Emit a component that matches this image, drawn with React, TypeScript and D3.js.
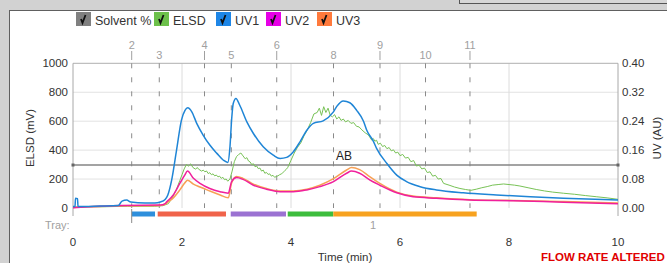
import React from "react";
import * as d3 from "d3";

// ---------- data ----------
const uv1Time = [0, 0.037, 0.046, 0.083, 0.092, 0.5, 0.83, 0.9, 0.985, 1.06, 1.32, 1.5, 1.6, 1.69, 1.74, 1.81, 1.9, 1.99, 2.055, 2.105, 2.18, 2.27, 2.39, 2.51, 2.64, 2.76, 2.84, 2.88, 2.91, 2.94, 2.99, 3.06, 3.19, 3.31, 3.49, 3.675, 3.8, 3.92, 4.04, 4.165, 4.29, 4.41, 4.59, 4.775, 4.84, 4.96, 5.08, 5.205, 5.33, 5.39, 5.51, 5.57, 5.76, 5.94, 6.12, 6.37, 6.67, 7.16, 7.77, 8.39, 9.0, 10];
const uv1Values = [0.004, 0.004, 0.027, 0.026, 0.004, 0.0055, 0.007, 0.019, 0.022, 0.0165, 0.014, 0.014, 0.0165, 0.0235, 0.036, 0.077, 0.16, 0.243, 0.27, 0.277, 0.266, 0.234, 0.201, 0.174, 0.151, 0.132, 0.126, 0.169, 0.243, 0.289, 0.303, 0.284, 0.238, 0.206, 0.169, 0.146, 0.137, 0.14, 0.155, 0.183, 0.215, 0.234, 0.241, 0.265, 0.281, 0.296, 0.291, 0.27, 0.24, 0.215, 0.185, 0.165, 0.123, 0.091, 0.073, 0.059, 0.05, 0.042, 0.036, 0.031, 0.027, 0.022];

const uvTime = [0, 0.9, 1.6, 1.69, 1.72, 1.84, 1.96, 2.05, 2.1, 2.21, 2.33, 2.51, 2.7, 2.85, 2.91, 3.0, 3.12, 3.31, 3.55, 3.8, 4.04, 4.29, 4.53, 4.78, 5.02, 5.11, 5.26, 5.45, 5.63, 5.94, 6.24, 6.67, 7.28, 8.08, 9.0, 10];
const uv2Values = [0.001, 0.007, 0.008, 0.012, 0.017, 0.036, 0.068, 0.091, 0.102, 0.082, 0.068, 0.054, 0.045, 0.041, 0.073, 0.084, 0.079, 0.063, 0.052, 0.045, 0.045, 0.05, 0.059, 0.073, 0.096, 0.102, 0.096, 0.077, 0.063, 0.042, 0.031, 0.027, 0.022, 0.02, 0.016, 0.012];
const uv3Values = [0.0014, 0.006, 0.007, 0.01, 0.014, 0.028, 0.05, 0.069, 0.077, 0.066, 0.058, 0.047, 0.036, 0.028, 0.069, 0.087, 0.082, 0.066, 0.054, 0.047, 0.047, 0.052, 0.063, 0.081, 0.105, 0.112, 0.106, 0.086, 0.068, 0.044, 0.033, 0.028, 0.023, 0.021, 0.018, 0.014];

const elsdTime = [0, 0.5, 1.0, 1.5, 1.65, 1.75, 1.82, 1.9, 1.96, 2.0, 2.04, 2.08, 2.12, 2.16, 2.2, 2.25, 2.28, 2.3, 2.33, 2.36, 2.39, 2.42, 2.45, 2.48, 2.51, 2.54, 2.57, 2.6, 2.63, 2.66, 2.69, 2.72, 2.75, 2.78, 2.81, 2.84, 2.88, 2.92, 2.96, 3.0, 3.04, 3.08, 3.12, 3.16, 3.19, 3.22, 3.25, 3.28, 3.31, 3.34, 3.37, 3.4, 3.43, 3.46, 3.49, 3.52, 3.55, 3.58, 3.61, 3.64, 3.67, 3.7, 3.73, 3.76, 3.79, 3.82, 3.85, 3.88, 3.91, 3.94, 4.0, 4.06, 4.12, 4.18, 4.24, 4.3, 4.36, 4.42, 4.48, 4.52, 4.56, 4.6, 4.64, 4.68, 4.72, 4.76, 4.8, 4.84, 4.88, 4.92, 4.96, 5.0, 5.05, 5.1, 5.15, 5.2, 5.25, 5.3, 5.36, 5.42, 5.48, 5.51, 5.54, 5.57, 5.6, 5.64, 5.68, 5.72, 5.76, 5.8, 5.84, 5.88, 5.92, 5.96, 6.0, 6.05, 6.1, 6.15, 6.2, 6.25, 6.3, 6.35, 6.4, 6.45, 6.5, 6.55, 6.6, 6.65, 6.7, 6.75, 6.8, 6.9, 7.0, 7.1, 7.2, 7.3, 7.4, 7.5, 7.6, 7.7, 7.8, 7.9, 8.0, 8.1, 8.2, 8.35, 8.5, 8.65, 8.8, 9.0, 9.2, 9.4, 9.6, 9.8, 10];
const elsdValues = [8, 8, 12, 12, 16, 30, 70, 130, 190, 230, 270, 300, 290, 305, 280, 268, 280, 270, 262, 255, 262, 250, 256, 238, 244, 230, 236, 222, 228, 215, 220, 205, 212, 196, 200, 185, 200, 255, 320, 355, 370, 380, 360, 340, 348, 325, 318, 300, 306, 285, 290, 272, 276, 255, 262, 240, 246, 232, 236, 220, 226, 212, 218, 222, 230, 235, 244, 255, 266, 280, 330, 380, 420, 450, 500, 540, 590, 650, 660, 690, 640, 700, 660, 690, 640, 630, 645, 615, 630, 605, 615, 595, 605, 585, 590, 565, 560, 540, 520, 505, 470, 480, 462, 468, 440, 448, 425, 432, 410, 418, 395, 402, 380, 386, 362, 370, 345, 350, 320, 328, 290, 296, 270, 276, 245, 250, 220, 226, 200, 204, 170, 158, 145, 135, 128, 122, 130, 140, 148, 158, 162, 166, 162, 158, 152, 140, 128, 118, 110, 102, 95, 86, 78, 70, 60];

const thresholdElsd = 297;

const fractionNumbers = ["2", "3", "4", "5", "6", "8", "9", "10", "11"];
const fractionTimes = [1.077, 1.583, 2.413, 2.905, 3.738, 4.78, 5.633, 6.468, 7.284];

const trayStart = [1.077, 1.554, 2.894, 3.94, 4.776];
const trayEnd = [1.505, 2.807, 3.908, 4.776, 7.407];
const trayColors = ["#2e8fdc", "#f0634a", "#9b72d2", "#3dbd3d", "#f7a21f"];

const elsdTicks = [0, 200, 400, 600, 800, 1000];
const uvTicks = [0, 0.08, 0.16, 0.24, 0.32, 0.4];
const timeTicks = [0, 2, 4, 6, 8, 10];

const legendLabels = ["Solvent %", "ELSD", "UV1", "UV2", "UV3"];
const legendColors = ["#808080", "#6cc04a", "#1e86e6", "#e600e6", "#ff7a3c"];
const legendX = [76, 154, 216, 266, 317];

// ---------- layout ----------
const W = 667;
const H = 263;
const X0 = 73;
const X1 = 618;
const YT = 63.3;
const YB = 208;
const FONT = "'Liberation Sans', Arial, sans-serif";

export default function App() {
  const x = d3.scaleLinear().domain([0, 10]).range([X0, X1]);
  const yE = d3.scaleLinear().domain([0, 1000]).range([YB, YT]);
  const yU = d3.scaleLinear().domain([0, 0.4]).range([YB, YT]);

  const uvLine = (ts: number[], vs: number[]) =>
    d3
      .line<number>()
      .x((_, i) => x(ts[i]))
      .y((v) => yU(v))
      .curve(d3.curveMonotoneX)(vs) || "";
  const elsdPath =
    d3
      .line<number>()
      .x((_, i) => x(elsdTime[i]))
      .y((v) => yE(v))(elsdValues) || "";

  const yThr = yE(thresholdElsd);

  return (
    <svg
      width={W}
      height={H}
      style={{ position: "absolute", left: 0, top: 0, fontFamily: FONT }}
    >
      {/* window chrome */}
      <rect x={0} y={0} width={W} height={H} fill="#d2d2d2" />
      <rect x={459.5} y={-2} width={210} height={5.5} fill="#d6d6d6" stroke="#555" strokeWidth={1} />
      <rect x={9.5} y={10.5} width={W} height={H} fill="#ffffff" stroke="#606060" strokeWidth={1} />

      {/* legend */}
      {legendLabels.map((lab, i) => (
        <g key={lab}>
          <rect x={legendX[i]} y={12} width={15} height={14} fill={legendColors[i]} />
          <path
            d={`M${legendX[i] + 5},${19} L${legendX[i] + 6.5},${23} L${legendX[i] + 9.5},${15}`}
            fill="none"
            stroke="#111"
            strokeWidth={1.8}
          />
          <text x={legendX[i] + 19} y={24.5} fontSize={12.5} fill="#333">
            {lab}
          </text>
        </g>
      ))}

      {/* gridlines */}
      {elsdTicks.slice(1, 5).map((t) => (
        <line key={"h" + t} x1={X0} x2={X1} y1={yE(t)} y2={yE(t)} stroke="#e2e2e2" strokeWidth={1} />
      ))}
      {timeTicks.slice(1, 5).map((t) => (
        <line key={"v" + t} x1={x(t)} x2={x(t)} y1={YT} y2={YB} stroke="#dcdcdc" strokeWidth={1} />
      ))}
      <line x1={X0} x2={X1} y1={YT} y2={YT} stroke="#b0b0b0" strokeWidth={1} />

      {/* fraction markers */}
      {fractionTimes.map((t, i) => (
        <g key={"f" + i}>
          <line
            x1={x(t)}
            x2={x(t)}
            y1={YT}
            y2={YB}
            stroke="#8a8a8a"
            strokeWidth={1}
            strokeDasharray="5,9"
          />
          {i % 2 === 0 ? (
            <>
              <text x={x(t)} y={49} fontSize={11} fill="#a0a0a0" textAnchor="middle">
                {fractionNumbers[i]}
              </text>
              <line x1={x(t)} x2={x(t)} y1={51} y2={60} stroke="#a0a0a0" strokeWidth={1} />
            </>
          ) : (
            <text x={x(t)} y={58.5} fontSize={11} fill="#a0a0a0" textAnchor="middle">
              {fractionNumbers[i]}
            </text>
          )}
        </g>
      ))}

      {/* axes */}
      <line x1={X0} x2={X0} y1={YT} y2={216} stroke="#a8a8a8" strokeWidth={1} />
      <line x1={X1} x2={X1} y1={YT} y2={216} stroke="#a8a8a8" strokeWidth={1} />
      {elsdTicks.map((t) => (
        <text key={"el" + t} x={68} y={yE(t) + 4} fontSize={11.5} fill="#333" textAnchor="end">
          {t}
        </text>
      ))}
      {uvTicks.map((t) => (
        <text key={"uv" + t} x={622} y={yU(t) + 4} fontSize={11.5} fill="#333">
          {t.toFixed(2)}
        </text>
      ))}
      {timeTicks.map((t) => (
        <text key={"tt" + t} x={x(t)} y={245.5} fontSize={11.5} fill="#333" textAnchor="middle">
          {t}
        </text>
      ))}
      <text x={345} y={261} fontSize={11.5} fill="#333" textAnchor="middle">
        Time (min)
      </text>
      <text
        transform="translate(34,138) rotate(-90)"
        fontSize={11.5}
        fill="#333"
        textAnchor="middle"
      >
        ELSD (mV)
      </text>
      <text
        transform="translate(661,138) rotate(-90)"
        fontSize={11.5}
        fill="#333"
        textAnchor="middle"
      >
        UV (AU)
      </text>
      <text x={541} y={261} fontSize={11.5} fill="#e00000" fontWeight="bold">
        FLOW RATE ALTERED
      </text>

      {/* threshold line */}
      <line x1={X0} x2={X1} y1={yThr} y2={yThr} stroke="#858585" strokeWidth={1.5} />
      <rect x={X0 - 1.5} y={yThr - 1.5} width={3} height={3} fill="#666" />
      <rect x={X1 - 1.5} y={yThr - 1.5} width={3} height={3} fill="#666" />

      {/* traces */}
      <path d={elsdPath} fill="none" stroke="#78c256" strokeWidth={1} />
      <path d={uvLine(uvTime, uv3Values)} fill="none" stroke="#f7a055" strokeWidth={1.5} />
      <path d={uvLine(uvTime, uv2Values)} fill="none" stroke="#f0209c" strokeWidth={1.5} />
      <path d={uvLine(uv1Time, uv1Values)} fill="none" stroke="#1f85d6" strokeWidth={1.5} />

      <text x={344} y={160} fontSize={12} fill="#222" textAnchor="middle">
        AB
      </text>

      {/* tray */}
      {trayStart.map((s, i) => (
        <rect
          key={"tr" + i}
          x={x(s)}
          y={211.5}
          width={x(trayEnd[i]) - x(s)}
          height={5}
          fill={trayColors[i]}
        />
      ))}
      <line x1={x(trayStart[0])} x2={x(trayStart[0])} y1={209} y2={223} stroke="#8a8a8a" strokeWidth={1} />
      <text x={45} y={229} fontSize={11} fill="#a0a0a0">
        Tray:
      </text>
      <text x={373} y={229} fontSize={11} fill="#a0a0a0" textAnchor="middle">
        1
      </text>
    </svg>
  );
}
